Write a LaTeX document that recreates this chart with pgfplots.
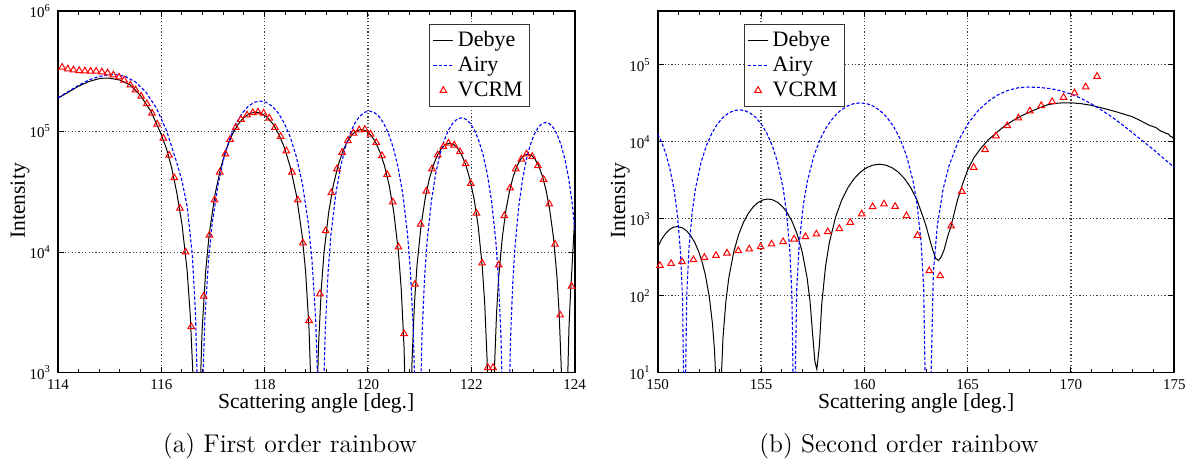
\documentclass[border=0pt]{standalone}
\usepackage{fontspec}
\newfontfamily\tms{Liberation Serif}
\usepackage{pgfplots}
\pgfplotsset{compat=1.18}
\pgfplotsset{
  legend image code/.code={\draw[mark repeat=2,mark phase=2,#1] plot coordinates {(0pt,0pt) (5pt,0pt) (10pt,0pt)};},
  myaxis/.style={
    scale only axis, width=258.3pt, height=180.8pt, anchor=south west,
    axis line style={line width=0.9pt},
    tick style={black, line width=0.5pt},
    major tick length=3pt, minor tick length=2pt,
    tick align=inside,
    grid=major,
    major grid style={black!75, line width=0.55pt, dash pattern=on 0.6pt off 1.1pt},
    yminorticks=false,
    tick label style={font=\tms\fontsize{7.5}{8.5}\selectfont},
    legend style={font=\tms\fontsize{11}{13}\selectfont, draw=black!80, inner sep=1.5pt, row sep=-0.3pt},
    legend cell align=left,
  },
  airylegend/.style={legend image code/.code={\draw[draw=blue, line width=0.6pt, dash pattern=on 1.6pt off 1pt] (0pt,0pt) -- (10pt,0pt);}},
}
\begin{document}
\begin{tikzpicture}
\useasboundingbox (0,0) rectangle (598.5pt,232.5pt);
% ---------------- (a) ----------------
\begin{axis}[ymode=log, myaxis, at={(29pt,46.2pt)},
  xmin=114, xmax=124, ymin=1e3, ymax=1e6,
  xtick={114,116,118,120,122,124}, xticklabels={114,116,118,120,122,124},
  minor x tick num=4,
  ytick={1e3,1e4,1e5,1e6},
  yticklabels={10\textsuperscript{3},10\textsuperscript{4},10\textsuperscript{5},10\textsuperscript{6}},
  legend style={at={(0.914,0.9649)}, anchor=north east},
]
\addplot[color=black, solid, line width=0.5pt, mark=none] coordinates {
(114.0,189000) (114.2,212000) (114.4,238000) (114.6,260000) (114.8,275000) (114.9,278000) (115.0,277000) (115.2,267000) (115.4,243000) (115.6,198000) (115.8,147000) (116.0,94000) (116.1,72000) (116.2,50000) (116.3,31000) (116.4,17000) (116.5,7000) (116.56,3000) (116.62,800) (116.68,1)
(116.700,1) (116.745,572) (116.790,2278) (116.858,6900) (116.925,13846) (117.038,29886) (117.150,50096) (117.263,72500) (117.375,94904) (117.488,115114) (117.600,131154) (117.713,141452) (117.825,145000) (117.938,141452) (118.050,131154) (118.163,115114) (118.275,94904) (118.388,72500) (118.500,50096) (118.613,29886) (118.725,13846) (118.793,6900) (118.860,2278) (118.905,572) (118.950,1)
(118.970,1) (119.006,410) (119.042,1634) (119.096,4949) (119.150,9931) (119.240,21435) (119.330,35931) (119.420,52000) (119.510,68069) (119.600,82565) (119.690,94069) (119.780,101455) (119.870,104000) (119.960,101455) (120.050,94069) (120.140,82565) (120.230,68069) (120.320,52000) (120.410,35931) (120.500,21435) (120.590,9931) (120.644,4949) (120.698,1634) (120.734,410) (120.770,1)
(120.790,1) (120.822,315) (120.853,1257) (120.901,3807) (120.948,7639) (121.027,16489) (121.106,27639) (121.185,40000) (121.264,52361) (121.343,63511) (121.422,72361) (121.501,78042) (121.580,80000) (121.659,78042) (121.738,72361) (121.817,63511) (121.896,52361) (121.975,40000) (122.054,27639) (122.133,16489) (122.212,7639) (122.259,3807) (122.307,1257) (122.338,315) (122.370,1)
(122.390,1) (122.418,256) (122.446,1021) (122.489,3093) (122.531,6207) (122.602,13397) (122.672,22457) (122.743,32500) (122.813,42543) (122.884,51603) (122.954,58793) (123.025,63409) (123.095,65000) (123.166,63409) (123.236,58793) (123.307,51603) (123.377,42543) (123.448,32500) (123.518,22457) (123.589,13397) (123.659,6207) (123.701,3093) (123.744,1021) (123.772,256) (123.800,1)
(123.82,1) (123.86,700) (123.89,2300) (123.92,4500) (123.95,7500) (123.98,13000) (124.0,19000)
};
\addlegendentry{Debye}
\addplot[color=blue, line width=0.55pt, dash pattern=on 1.6pt off 1pt, mark=none, airylegend] coordinates {
(114.0,190000) (114.2,215000) (114.4,242000) (114.6,268000) (114.8,287000) (115.0,296000) (115.1,297000) (115.3,287000) (115.5,258000) (115.7,213000) (115.9,158000) (116.1,102000) (116.3,55000) (116.4,39000) (116.5,24000) (116.6,9500) (116.66,3200) (116.70,700) (116.73,1)
(116.750,1) (116.797,706) (116.843,2812) (116.913,8518) (116.983,17093) (117.100,36894) (117.216,61843) (117.333,89500) (117.449,117157) (117.566,142106) (117.682,161907) (117.799,174620) (117.915,179000) (118.032,174620) (118.148,161907) (118.265,142106) (118.381,117157) (118.498,89500) (118.614,61843) (118.731,36894) (118.847,17093) (118.917,8518) (118.987,2812) (119.033,706) (119.080,1)
(119.100,1) (119.137,584) (119.174,2325) (119.230,7043) (119.285,14133) (119.378,30504) (119.470,51133) (119.563,74000) (119.655,96867) (119.748,117496) (119.840,133867) (119.933,144378) (120.025,148000) (120.118,144378) (120.210,133867) (120.303,117496) (120.395,96867) (120.488,74000) (120.580,51133) (120.673,30504) (120.765,14133) (120.821,7043) (120.876,2325) (120.913,584) (120.950,1)
(120.980,1) (121.013,513) (121.046,2042) (121.096,6186) (121.146,12414) (121.229,26794) (121.312,44914) (121.395,65000) (121.478,85086) (121.561,103206) (121.644,117586) (121.727,126819) (121.810,130000) (121.893,126819) (121.976,117586) (122.059,103206) (122.142,85086) (122.225,65000) (122.308,44914) (122.391,26794) (122.474,12414) (122.524,6186) (122.574,2042) (122.607,513) (122.640,1)
(122.700,1) (122.730,469) (122.759,1869) (122.804,5663) (122.848,11364) (122.922,24527) (122.996,41113) (123.070,59500) (123.144,77887) (123.218,94473) (123.292,107637) (123.366,116088) (123.440,119000) (123.514,116088) (123.588,107637) (123.662,94473) (123.736,77887) (123.810,59500) (123.884,41113) (123.958,24527) (124.032,11364) (124.076,5663)
};
\addlegendentry{Airy}
\addplot[only marks, color=red, mark=triangle, mark size=1.9pt, mark options={line width=0.5pt, solid}] coordinates {
(114.08,341000) (114.19,330000) (114.30,324000) (114.41,320000) (114.52,318000) (114.63,316000) (114.74,316000) (114.85,312000) (114.96,306000) (115.07,294000) (115.18,283000) (115.28,267000) (115.40,243000) (115.50,221000) (115.61,196000) (115.72,170000) (115.82,142000) (115.92,115000) (116.04,88000) (116.15,63500) (116.25,41400) (116.36,23100) (116.47,10000) (116.58,2400) (116.82,4300) (116.93,13800) (117.03,27000) (117.13,46000) (117.24,65000) (117.33,86000) (117.44,108000) (117.54,126000) (117.66,137000) (117.77,143000) (117.87,145000) (117.98,142000) (118.09,129000) (118.20,108000) (118.31,91000) (118.42,69000) (118.53,46000) (118.64,27000) (118.74,11900) (118.86,2700) (119.07,4500) (119.18,15000) (119.29,31000) (119.40,49000) (119.50,67000) (119.61,84000) (119.72,97000) (119.83,103000) (119.94,104000) (120.05,95000) (120.16,81000) (120.27,63000) (120.37,44000) (120.48,26000) (120.59,11000) (120.70,2100) (120.91,5400) (121.02,17000) (121.13,32000) (121.24,49000) (121.35,64000) (121.46,75000) (121.56,80000) (121.67,77000) (121.78,68000) (121.89,54000) (121.99,37000) (122.10,21000) (122.21,8100) (122.32,1100) (122.42,1100) (122.53,7800) (122.64,20000) (122.75,34000) (122.86,49000) (122.97,59000) (123.07,65000) (123.18,62000) (123.29,52000) (123.40,40000) (123.51,25000) (123.62,11600) (123.72,3000) (123.94,5200)
};
\addlegendentry{VCRM}
\end{axis}
% ---------------- (b) ----------------
\begin{axis}[ymode=log, myaxis, at={(328.85pt,46.2pt)},
  xmin=150, xmax=175, ymin=10, ymax=5e5,
  xtick={150,155,160,165,170,175}, xticklabels={150,155,160,165,170,175},
  minor x tick num=4,
  ytick={1e1,1e2,1e3,1e4,1e5},
  yticklabels={10\textsuperscript{1},10\textsuperscript{2},10\textsuperscript{3},10\textsuperscript{4},10\textsuperscript{5}},
  legend style={at={(0.3623,0.9649)}, anchor=north east},
]
\addplot[color=black, solid, line width=0.5pt, mark=none] coordinates {
(150.0,427) (150.2,546) (150.4,651) (150.6,732) (150.8,779) (150.95,790) (151.2,760) (151.4,695) (151.6,601) (151.8,487) (152.0,364) (152.15,273) (152.3,189) (152.5,95) (152.65,43) (152.75,19.3) (152.85,4.9) (152.97,1)
(153.065,7.1) (153.159,28.3) (153.301,85.7) (153.443,171.9) (153.680,371) (153.916,621.9) (154.153,900) (154.389,1178) (154.626,1429) (154.862,1628) (155.099,1756) (155.335,1800) (155.572,1756) (155.808,1628) (156.045,1429) (156.281,1178) (156.518,900) (156.754,621.9) (156.991,371) (157.227,171.9) (157.369,85.7) (157.511,28.3) (157.606,14) (157.700,11)
(157.821,22) (157.942,80) (158.124,243) (158.305,487) (158.608,1051) (158.910,1762) (159.213,2550) (159.515,3338) (159.818,4049) (160.120,4613) (160.423,4975) (160.725,5100) (161.028,4975) (161.330,4613) (161.633,4049) (161.935,3338) (162.238,2550) (162.540,1762) (162.843,1051) (163.0,780) (163.145,560) (163.30,400) (163.45,305) (163.59,286) (163.72,320) (163.86,394) (164.03,587) (164.19,792) (164.35,1180) (164.51,1760) (164.75,2800) (165.0,4300) (165.3,6200) (165.65,8300) (166.0,10600) (166.46,13600) (166.85,16500) (167.26,19300) (167.65,22000) (168.07,24800) (168.5,27800) (168.88,30300) (169.3,31600) (169.69,32100) (170.1,31900) (170.5,31200) (170.9,30000) (171.31,28300) (171.7,26600) (172.12,24800) (172.5,23100) (172.93,21300) (173.3,19200) (173.74,16600) (174.0,15600) (174.1,15400) (174.2,14600) (174.38,13600) (174.5,13300) (174.6,12800) (174.7,12700) (174.8,11800) (174.9,11500) (175.0,10600)
};
\addlegendentry{Debye}
\addplot[color=blue, line width=0.55pt, dash pattern=on 1.6pt off 1pt, mark=none, airylegend] coordinates {
(150.0,12500) (150.2,9750) (150.4,6890) (150.6,4350) (150.8,2290) (150.95,1140) (151.1,377) (151.2,95) (151.3,1)
(151.406,102.5) (151.512,408) (151.671,1237) (151.830,2483) (152.095,5359) (152.360,8983) (152.625,13000) (152.890,17017) (153.155,20641) (153.420,23517) (153.685,25364) (153.950,26000) (154.215,25364) (154.480,23517) (154.745,20641) (155.010,17017) (155.275,13000) (155.540,8983) (155.805,5359) (156.070,2483) (156.229,1237) (156.388,408) (156.494,102.5) (156.600,1)
(156.728,126) (156.856,503) (157.048,1523) (157.240,3056) (157.560,6596) (157.880,11056) (158.200,16000) (158.520,20944) (158.840,25404) (159.160,28944) (159.480,31217) (159.800,32000) (160.120,31217) (160.440,28944) (160.760,25404) (161.080,20944) (161.400,16000) (161.720,11056) (162.040,6596) (162.360,3056) (162.552,1523) (162.744,503) (162.872,126) (163.000,1)
(163.150,1) (163.340,203) (163.530,807) (163.815,2446) (164.100,4908) (164.575,10594) (165.050,17758) (165.525,25700) (166.000,33642) (166.475,40806) (166.950,46492) (167.425,50142) (167.900,51400) (168.5,50700) (169.0,49000) (169.5,45900) (170.0,41700) (170.5,36500) (171.0,30900) (171.5,25600) (172.0,20800) (172.5,16500) (173.0,12900) (173.5,10100) (174.0,7850) (174.5,6030) (175.0,4620)
};
\addlegendentry{Airy}
\addplot[only marks, color=red, mark=triangle, mark size=1.9pt, mark options={line width=0.5pt, solid}] coordinates {
(150.11,246) (150.65,261) (151.18,275) (151.73,292) (152.26,313) (152.82,332) (153.35,357) (153.90,383) (154.43,403) (154.98,431) (155.51,468) (156.07,501) (156.60,543) (157.15,582) (157.68,631) (158.23,676) (158.79,740) (159.32,893) (159.87,1148) (160.40,1429) (160.95,1549) (161.49,1442) (162.04,1092) (162.57,605) (163.14,210) (163.67,181) (164.20,802) (164.72,2259) (165.29,4630) (165.84,7870) (166.37,11900) (166.92,16100) (167.46,20300) (168.01,25100) (168.56,29400) (169.09,33100) (169.64,37700) (170.17,43000) (170.71,51400) (171.26,70600)
};
\addlegendentry{VCRM}
\end{axis}
% ---------------- labels ----------------
\node[anchor=base, font=\tms\fontsize{10.8}{13}\selectfont] at (158.1pt,28pt) {Scattering angle [deg.]};
\node[anchor=base, font=\tms\fontsize{10.8}{13}\selectfont] at (458.05pt,28pt) {Scattering angle [deg.]};
\node[rotate=90, anchor=base, font=\tms\fontsize{10.8}{13}\selectfont] at (12.5pt,132pt) {Intensity};
\node[rotate=90, anchor=base, font=\tms\fontsize{10.8}{13}\selectfont] at (312.5pt,132pt) {Intensity};
\node[anchor=base, font=\fontsize{12.8}{15}\selectfont] at (145pt,6pt) {(a) First order rainbow};
\node[anchor=base, font=\fontsize{12.8}{15}\selectfont] at (449.5pt,6pt) {(b) Second order rainbow};
\end{tikzpicture}
\end{document}
